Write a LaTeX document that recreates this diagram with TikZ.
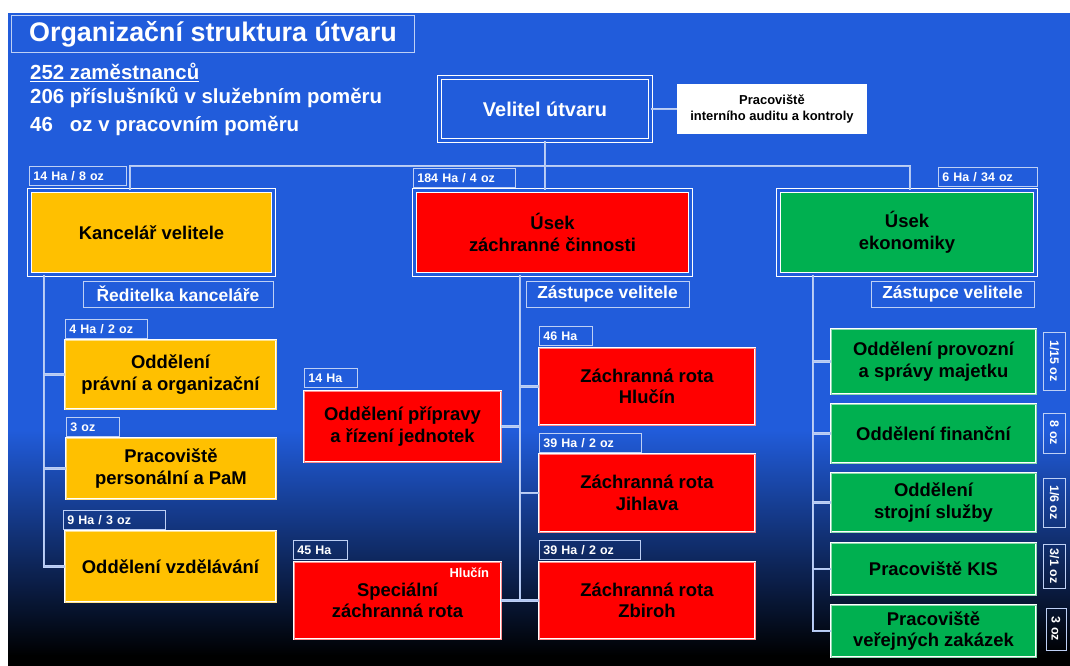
\documentclass[tikz,border=0pt]{standalone}
\usepackage{fontspec}
\setmainfont{Liberation Sans}
\usetikzlibrary{positioning}

\definecolor{bgblue}{RGB}{33,92,219}
\definecolor{unityellow}{RGB}{255,192,0}
\definecolor{unitred}{RGB}{255,0,0}
\definecolor{unitgreen}{RGB}{0,176,80}
\definecolor{frameclr}{RGB}{190,208,245}

\tikzset{
  unit/.style={draw=white, line width=0.7pt, double distance=0.9pt,
    inner sep=0pt, align=center, text=black,
    font=\bfseries\fontsize{18.5}{21.5}\selectfont},
  yunit/.style={unit, fill=unityellow, double=unityellow!45!white},
  runit/.style={unit, fill=unitred, double=unitred!45!white},
  gunit/.style={unit, fill=unitgreen, double=unitgreen!45!white},
  topunit/.style={draw=white, line width=0.8pt, double=bgblue, double distance=3pt,
    inner sep=0pt, align=center, text=black,
    font=\bfseries\fontsize{18.5}{22}\selectfont},
  tag/.style={draw=frameclr, line width=0.7pt, anchor=south west, minimum height=19bp,
    inner xsep=4bp, inner ysep=0pt, text width=#1, align=left, text=white,
    font=\bfseries\fontsize{12.5}{14}\selectfont},
  vtag/.style={draw=frameclr, line width=0.7pt, rotate=-90, minimum height=22bp,
    inner sep=0pt, text=white, font=\bfseries\fontsize{12.5}{14}\selectfont},
  role/.style={draw=frameclr, line width=0.7pt, minimum height=26bp, inner sep=0pt,
    text=white, font=\bfseries\fontsize{17.5}{20}\selectfont},
  stat/.style={anchor=base west, inner sep=0pt, text=white,
    font=\bfseries\fontsize{20.5}{24}\selectfont},
  conn/.style={draw=frameclr, line width=0.7pt, double=bgblue!35!white, double distance=0.8pt}
}

\begin{document}
\begin{tikzpicture}[x=1bp,y=-1bp]
    % Background
    \useasboundingbox (0,0) rectangle (1070,666);
    \fill[white] (0,0) rectangle (1070,666);
    \fill[bgblue] (8,13) rectangle (1070,431);
    \shade[top color=bgblue, bottom color=black] (8,430) rectangle (1070,656);
    \fill[black] (8,655) rectangle (1070,666);

    % Title and headcount
    \node[draw=frameclr, line width=0.8pt, minimum width=403bp, minimum height=37bp, inner sep=0pt,
      text=white, font=\bfseries\fontsize{27}{30}\selectfont] (title) at (213,34) {Organizační struktura útvaru};
    \node[stat] (staff) at (30,80) {\underline{252 zaměstnanců}};
    \node[stat] (sworn) at (30,104) {206 příslušníků v služebním poměru};
    \node[stat] (civil) at (30,132) {46\phantom{0} oz v pracovním poměru};

    % Commander
    \node[topunit, fill=bgblue, text=white, font=\bfseries\fontsize{20}{24}\selectfont,
      minimum width=211bp, minimum height=63bp] (cmd) at (545,109) {Velitel útvaru};
    \node[fill=white, inner sep=0pt, minimum width=190bp, minimum height=50bp, align=center,
      font=\bfseries\fontsize{13}{15.5}\selectfont] (audit) at (772,109) {Pracoviště\\interního auditu a kontroly};

    % Sections
    \node[topunit, fill=unityellow, minimum width=244bp, minimum height=84bp] (office) at (151.5,232.5) {Kancelář velitele};
    \node[topunit, fill=unitred, minimum width=276bp, minimum height=84bp] (rescue) at (552.5,232.5) {Úsek\\záchranné činnosti};
    \node[topunit, fill=unitgreen, minimum width=257bp, minimum height=84bp] (economy) at (907,232.5) {Úsek\\ekonomiky};

    \node[tag=89bp] (tagoffice) at (29,186) {14 Ha / 8 oz};
    \node[tag=94bp] (tagrescue) at (413,188) {184 Ha / 4 oz};
    \node[tag=91bp] (tageconomy) at (938,187) {6 Ha / 34 oz};

    \node[role, minimum width=190bp] (head) at (178,294) {Ředitelka kanceláře};
    \node[role, minimum width=163bp] (deputyR) at (607.5,294) {Zástupce velitele};
    \node[role, minimum width=163bp] (deputyE) at (952.5,294) {Zástupce velitele};

    % Office units
    \node[yunit, minimum width=211bp, minimum height=69bp] (legal) at (170.5,374.5) {Oddělení\\právní a organizační};
    \node[yunit, minimum width=210bp, minimum height=61bp] (hr) at (171,468.5) {Pracoviště\\personální a PaM};
    \node[yunit, minimum width=211bp, minimum height=71bp] (edu) at (170.5,566.5) {Oddělení vzdělávání};
    \node[tag=74bp] (taglegal) at (65,339) {4 Ha / 2 oz};
    \node[tag=45bp] (taghr) at (66,437) {3 oz};
    \node[tag=94bp] (tagedu) at (63,530) {9 Ha / 3 oz};

    % Rescue units
    \node[runit, minimum width=216bp, minimum height=77bp] (hlucin) at (647,386.5) {Záchranná rota\\Hlučín};
    \node[runit, minimum width=197bp, minimum height=71bp] (prep) at (402.5,426.5) {Oddělení přípravy\\a řízení jednotek};
    \node[runit, minimum width=216bp, minimum height=78bp] (jihlava) at (647,493) {Záchranná rota\\Jihlava};
    \node[runit, minimum width=207bp, minimum height=77bp] (special) at (397.5,600.5) {Speciální\\záchranná rota};
    \node[runit, minimum width=216bp, minimum height=77bp] (zbiroh) at (647,600.5) {Záchranná rota\\Zbiroh};
    \node[anchor=north east, inner sep=0pt, text=white, font=\bfseries\fontsize{13}{15}\selectfont]
      (spcity) at ([xshift=-12bp, yshift=-6bp]special.north east) {Hlučín};
    \node[tag=45bp] (taghlucin) at (539,346) {46 Ha};
    \node[tag=45bp] (tagprep) at (304,388) {14 Ha};
    \node[tag=94bp] (tagjihlava) at (539,453) {39 Ha / 2 oz};
    \node[tag=46bp] (tagspecial) at (293,560) {45 Ha};
    \node[tag=93bp] (tagzbiroh) at (539,560) {39 Ha / 2 oz};

    % Economy units
    \node[gunit, minimum width=205bp, minimum height=65bp] (estate) at (933.5,361.5) {Oddělení provozní\\a správy majetku};
    \node[gunit, minimum width=205bp, minimum height=59bp] (finance) at (933.5,433.5) {Oddělení finanční};
    \node[gunit, minimum width=205bp, minimum height=59bp] (machine) at (933.5,502.5) {Oddělení\\strojní služby};
    \node[gunit, minimum width=205bp, minimum height=52bp] (kis) at (933.5,569) {Pracoviště KIS};
    \node[gunit, minimum width=205bp, minimum height=52bp] (tender) at (933.5,631) {Pracoviště\\veřejných zakázek};
    \node[vtag, minimum width=58bp] (ozestate) at (1054.5,361) {1/15 oz};
    \node[vtag, minimum width=40bp] (ozfinance) at (1054.5,433) {8 oz};
    \node[vtag, minimum width=49bp] (ozmachine) at (1054.5,502.5) {1/6 oz};
    \node[vtag, minimum width=44bp] (ozkis) at (1054.5,566) {3/1 oz};
    \node[vtag, minimum width=42bp, minimum height=20bp] (oztender) at (1056,629) {3 oz};

    % Connectors
    \coordinate (busL) at (130,166);
    \coordinate (busR) at (910,166);
    \coordinate (spineL) at (44,0);
    \coordinate (spineC) at (520,0);
    \coordinate (spineE) at (813,0);
    \draw[conn] (cmd.east) -- (audit.west);
    \draw[conn] (office.north -| busL) -- (busL) -- (busR) -- (economy.north -| busR);
    \draw[conn] (cmd.south) -- (cmd.south |- rescue.north);

    \draw[conn] (office.south -| spineL) -- (edu.west -| spineL) -- (edu.west);
    \draw[conn] (legal.west -| spineL) -- (legal.west);
    \draw[conn] (hr.west -| spineL) -- (hr.west);

    \draw[conn] (rescue.south -| spineC) -- (zbiroh.west -| spineC) -- (zbiroh.west);
    \draw[conn] (special.east) -- (zbiroh.west -| spineC);
    \draw[conn] (hlucin.west -| spineC) -- (hlucin.west);
    \draw[conn] (prep.east) -- (prep.east -| spineC);
    \draw[conn] (jihlava.west -| spineC) -- (jihlava.west);

    \draw[conn] (economy.south -| spineE) -- (tender.west -| spineE) -- (tender.west);
    \draw[conn] (estate.west -| spineE) -- (estate.west);
    \draw[conn] (finance.west -| spineE) -- (finance.west);
    \draw[conn] (machine.west -| spineE) -- (machine.west);
    \draw[conn] (kis.west -| spineE) -- (kis.west);
\end{tikzpicture}
\end{document}
